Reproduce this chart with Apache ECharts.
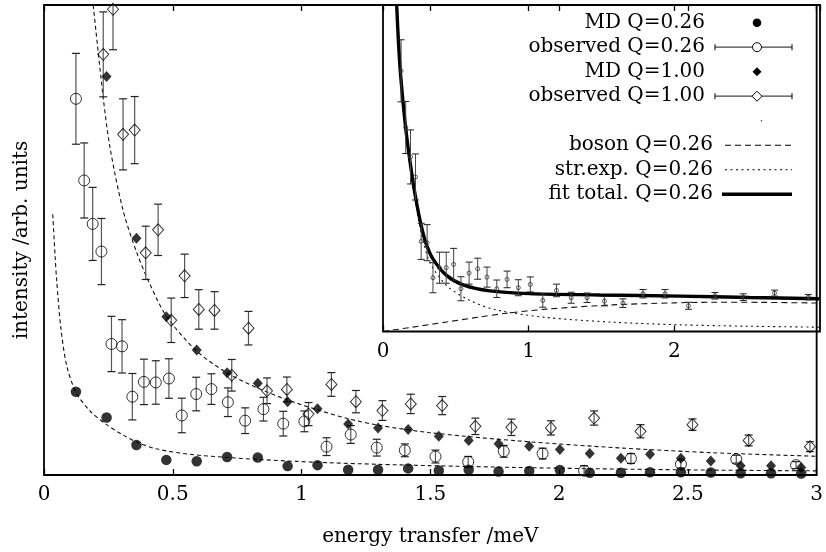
<!DOCTYPE html>
<html>
<head>
<meta charset="utf-8">
<script src="https://cdn.jsdelivr.net/npm/echarts@6/dist/echarts.min.js"></script>
<style>
  html, body { margin: 0; padding: 0; background: #fff; }
  #chart { width: 826px; height: 552px; }
</style>
</head>
<body>
<div id="chart"></div>
<script>
// ---- MD simulation spectra (common energy grid, meV) ----
const energyMD = [0.124, 0.243, 0.359, 0.475, 0.593, 0.711, 0.830, 0.946, 1.062, 1.181, 1.297, 1.414, 1.533,
                  1.649, 1.765, 1.884, 2.003, 2.119, 2.240, 2.353, 2.473, 2.589, 2.705, 2.823, 2.940];
const mdQ026 = [84.3, 58.3, 30.3, 15.3, 14, 18.3, 17.7, 9, 10, 5.3, 5.3, 6.7, 4.5,
                5.3, 3.5, 4, 5, 2.3, 2.2, 2.7, 2.7, 2.5, 1.8, 1.8, 1.5];
// Q=1.00 starts at the second channel (first one is off scale)
const energyMD100 = [0.243, 0.359, 0.475, 0.593, 0.711, 0.830, 0.946, 1.062, 1.181, 1.297, 1.414, 1.533,
                     1.649, 1.765, 1.884, 2.003, 2.119, 2.240, 2.353, 2.473, 2.589, 2.705, 2.823, 2.940];
const mdQ100 = [403.7, 239.7, 160.3, 126.7, 103.5, 93, 74.3, 67, 51.7, 47.7, 46, 39.3,
                35, 31.7, 29, 25.7, 21.7, 17, 21, 17, 14.3, 9.3, 9.3, 7.7];

// ---- observed spectra with uncertainties ----
const energyObs026 = [0.124, 0.156, 0.189, 0.223, 0.262, 0.303, 0.343, 0.388, 0.434, 0.485, 0.535, 0.591, 0.650,
                      0.714, 0.781, 0.852, 0.929, 1.011, 1.097, 1.191, 1.292, 1.401, 1.520, 1.647, 1.785, 1.936,
                      2.097, 2.279, 2.473, 2.688, 2.920];
const obsQ026 = [381, 298.3, 254.3, 226.3, 132.7, 130.3, 79.3, 94.3, 93.7, 97.7, 60.3, 82, 87,
                 73.7, 55, 66.7, 52, 54.3, 28.7, 41, 27.7, 25, 18.7, 13.3, 24, 21.7,
                 4.3, 16.7, 11, 16, 10];
const errQ026 = [46, 38, 37, 33.5, 28, 27, 23.5, 23, 22, 20, 17.5, 17, 15.5,
                 14.5, 13, 12, 12.5, 10.5, 9, 9, 8.5, 6.5, 6.5, 5.5, 6, 5.5,
                 5, 5, 4, 4, 3.5];

const energyObs100 = [0.230, 0.268, 0.307, 0.352, 0.395, 0.443, 0.494, 0.546, 0.601, 0.662, 0.729, 0.794, 0.866,
                      0.943, 1.027, 1.116, 1.211, 1.314, 1.424, 1.546, 1.675, 1.815, 1.968, 2.136, 2.316, 2.518,
                      2.736, 2.974];
const obsQ100 = [426, 471.7, 345, 349.3, 225, 248.3, 156.7, 201.7, 167.7, 166.7, 101, 148.7, 85.3,
                 86.7, 61.7, 91.7, 74.3, 65.3, 72, 70.3, 49.3, 48.3, 47.7, 57.7, 44.3, 51,
                 35, 28.7];
const errQ100 = [43, 41, 36, 34, 27, 26, 22.5, 22, 20, 19, 16, 17, 13,
                 12.5, 11.7, 12, 11.3, 10, 9.8, 9.2, 8.3, 8.3, 7.2, 7.2, 6.7, 5.8,
                 5.5, 5];

// ---- model curves through the MD spectra ----
const fitE026 = [0.034, 0.043, 0.049, 0.065, 0.088, 0.124, 0.178, 0.243, 0.307, 0.359, 0.436, 0.565,
                 0.711, 0.83, 0.978, 1.107, 1.301, 1.494, 1.843, 2.23, 2.617, 3.0];
const fitI026 = [264, 222, 198, 150, 111, 84, 65, 51, 40.5, 33.5, 26.5, 21,
                 17.8, 15.8, 13.8, 12.4, 10.8, 9.5, 7.6, 6, 4.9, 4.2];
const fitE100 = [0.191, 0.230, 0.256, 0.307, 0.359, 0.410, 0.475, 0.591, 0.707, 0.830, 0.946, 1.062,
                 1.181, 1.297, 1.494, 1.843, 2.23, 2.6, 3.0];
const fitI100 = [476, 382, 332, 268, 226, 194, 161, 126, 104, 88, 76, 66,
                 57, 50.5, 43, 34.5, 27.5, 22.5, 19];

// ---- inset: observed Q=0.26 and its decomposition ----
const insetObs = [260.3, 203.7, 174.3, 154.3, 90, 88.7, 53.7, 63.7, 63.7, 67, 42.7, 58.3, 62.7,
                  54.3, 42.7, 52, 43.7, 47, 31, 41, 33.7, 33.7, 30.3, 28.3, 37.7, 37.7,
                  25.7, 35.7, 34.3, 38.3, 34.3];
const insetErr = [31, 26, 27, 23, 18, 18, 15, 15.5, 15.5, 16, 12, 11, 10.5,
                  10, 8.7, 8.3, 8, 7.5, 6.7, 6.3, 5.5, 4.7, 4.7, 4.3, 4.2, 4.2,
                  3.5, 3.3, 3.3, 3, 2.7];
const totalE = [0.094, 0.105, 0.121, 0.155, 0.190, 0.226, 0.265, 0.300, 0.345, 0.436, 0.550, 0.733,
                1.007, 1.486, 2.034, 2.514, 2.993];
const totalI = [326, 292, 256, 204, 165, 132, 104, 86, 72, 56, 46.5, 40.5,
                37.8, 36.5, 35.3, 34, 32.7];
const strExpE = [0.094, 0.121, 0.155, 0.190, 0.226, 0.265, 0.322, 0.436, 0.596, 0.779, 1.121, 1.577,
                 2.034, 2.5, 2.993];
const strExpI = [325, 254, 201, 161, 126, 97, 69, 46, 31, 21.5, 14, 9.3,
                 6.7, 5.3, 4.3];
const bosonE = [0, 0.2, 0.436, 0.65, 0.847, 1.121, 1.577, 2.0, 2.262, 2.6, 2.993];
const bosonI = [0, 4.3, 9.5, 14.2, 18.2, 22.3, 26.6, 28.6, 29.2, 29.1, 28.4];

const FONT = '"DejaVu Serif", serif';
const MAIN_YMAX = 476, INSET_YMAX = 326;

const zip = (xs, ys) => xs.map((x, i) => [x, ys[i]]);
const zip3 = (xs, ys, es) => xs.map((x, i) => [x, ys[i], es[i]]);

// vertical error bar with caps, clamped to the plot range
function errorBars(ymax, capHalf, barColor, capColor, lw) {
  return function (params, api) {
    const x = api.value(0), y = api.value(1), e = api.value(2);
    const top = Math.min(y + e, ymax), bot = Math.max(y - e, 0);
    const pTop = api.coord([x, top]);
    const pBot = api.coord([x, bot]);
    const children = [{
      type: 'line',
      shape: { x1: pTop[0], y1: pTop[1], x2: pBot[0], y2: pBot[1] },
      style: { stroke: barColor, lineWidth: lw }
    }];
    if (y + e <= ymax) {
      children.push({ type: 'line',
        shape: { x1: pTop[0] - capHalf, y1: pTop[1], x2: pTop[0] + capHalf, y2: pTop[1] },
        style: { stroke: capColor, lineWidth: lw } });
    }
    children.push({ type: 'line',
      shape: { x1: pBot[0] - capHalf, y1: pBot[1], x2: pBot[0] + capHalf, y2: pBot[1] },
      style: { stroke: capColor, lineWidth: lw } });
    return { type: 'group', children };
  };
}

const axisFont = { fontFamily: FONT, fontSize: 20, color: '#000' };
const tickStyle = { show: true, inside: true, length: 6, lineStyle: { color: '#000', width: 1.3 } };

// key entries drawn as graphic elements
const keyA = ['MD Q=0.26', 'observed Q=0.26', 'MD Q=1.00', 'observed Q=1.00'];
const keyB = ['boson Q=0.26', 'str.exp. Q=0.26', 'fit total. Q=0.26'];
const rowY = [22.7, 47.2, 71.7, 96.2, 120.7, 145.2, 169.7, 194.2];
const graphics = [];
keyA.forEach((t, i) => graphics.push({ type: 'text', z: 100,
  style: { text: t, x: 705, y: rowY[i], align: 'right', verticalAlign: 'middle', font: '20px ' + FONT, fill: '#000' } }));
keyB.forEach((t, i) => graphics.push({ type: 'text', z: 100,
  style: { text: t, x: 713, y: rowY[i + 5], align: 'right', verticalAlign: 'middle', font: '20px ' + FONT, fill: '#000' } }));
const sx = 757, l0 = 715, l1 = 792;
graphics.push({ type: 'circle', z: 100, shape: { cx: sx, cy: rowY[0], r: 4.3 }, style: { fill: '#000' } });
[1, 3].forEach(i => {
  graphics.push({ type: 'line', z: 100, shape: { x1: l0, y1: rowY[i], x2: l1, y2: rowY[i] }, style: { stroke: '#444', lineWidth: 1.2 } });
  graphics.push({ type: 'line', z: 100, shape: { x1: l0, y1: rowY[i] - 3, x2: l0, y2: rowY[i] + 3 }, style: { stroke: '#222', lineWidth: 1.2 } });
  graphics.push({ type: 'line', z: 100, shape: { x1: l1, y1: rowY[i] - 3, x2: l1, y2: rowY[i] + 3 }, style: { stroke: '#222', lineWidth: 1.2 } });
});
graphics.push({ type: 'circle', z: 101, shape: { cx: sx, cy: rowY[1], r: 4.5 }, style: { fill: '#fff', stroke: '#000', lineWidth: 1 } });
graphics.push({ type: 'polygon', z: 100, shape: { points: [[sx, rowY[2] - 4.5], [sx + 4.5, rowY[2]], [sx, rowY[2] + 4.5], [sx - 4.5, rowY[2]]] }, style: { fill: '#000' } });
graphics.push({ type: 'polygon', z: 101, shape: { points: [[sx, rowY[3] - 5], [sx + 5, rowY[3]], [sx, rowY[3] + 5], [sx - 5, rowY[3]]] }, style: { fill: '#fff', stroke: '#000', lineWidth: 1 } });
graphics.push({ type: 'circle', z: 100, shape: { cx: 761.5, cy: rowY[4], r: 0.8 }, style: { fill: '#444' } });
graphics.push({ type: 'line', z: 100, shape: { x1: 725, y1: rowY[5], x2: l1, y2: rowY[5] }, style: { stroke: '#000', lineWidth: 1.1, lineDash: [6, 4] } });
graphics.push({ type: 'line', z: 100, shape: { x1: 725, y1: rowY[6], x2: l1, y2: rowY[6] }, style: { stroke: '#000', lineWidth: 1.1, lineDash: [2, 3.5] } });
graphics.push({ type: 'line', z: 100, shape: { x1: 722, y1: rowY[7], x2: l1, y2: rowY[7] }, style: { stroke: '#000', lineWidth: 3.4 } });

const chart = echarts.init(document.getElementById('chart'), null, { renderer: 'canvas' });

const curve = (xi, yi, xs, ys, style, z) => ({
  type: 'line', xAxisIndex: xi, yAxisIndex: yi, data: zip(xs, ys), showSymbol: false,
  smooth: 0.3, clip: true, z: z, lineStyle: style
});

chart.setOption({
  animation: false,
  backgroundColor: '#fff',
  grid: [
    { left: 44, right: 6, top: 5, bottom: 71, show: true, borderColor: '#000', borderWidth: 1.8, backgroundColor: 'transparent' },
    { left: 383, right: 6, top: 5, bottom: 220.5, show: true, borderColor: '#000', borderWidth: 1.8, backgroundColor: 'transparent' }
  ],
  xAxis: [
    { gridIndex: 0, type: 'value', min: 0, max: 3, interval: 0.5, position: 'bottom',
      axisLine: { show: false }, axisTick: tickStyle, splitLine: { show: false },
      axisLabel: Object.assign({ margin: 10, formatter: v => String(v) }, axisFont),
      name: 'energy transfer /meV', nameLocation: 'middle', nameGap: 52,
      nameTextStyle: axisFont },
    { gridIndex: 0, type: 'value', min: 0, max: 3, interval: 0.5, position: 'top',
      axisLine: { show: false }, axisTick: tickStyle, splitLine: { show: false }, axisLabel: { show: false } },
    { gridIndex: 1, type: 'value', min: 0, max: 3, interval: 1, position: 'bottom',
      axisLine: { show: false }, axisTick: tickStyle, splitLine: { show: false },
      axisLabel: Object.assign({ margin: 10, showMaxLabel: false, formatter: v => String(v) }, axisFont) },
    { gridIndex: 1, type: 'value', min: 0, max: 3, interval: 1, position: 'top',
      axisLine: { show: false }, axisTick: tickStyle, splitLine: { show: false }, axisLabel: { show: false } }
  ],
  yAxis: [
    { gridIndex: 0, type: 'value', min: 0, max: MAIN_YMAX,
      axisLine: { show: false }, axisTick: { show: false }, splitLine: { show: false }, axisLabel: { show: false },
      name: 'intensity /arb. units', nameLocation: 'middle', nameGap: 12, nameRotate: 90,
      nameTextStyle: axisFont },
    { gridIndex: 1, type: 'value', min: 0, max: INSET_YMAX,
      axisLine: { show: false }, axisTick: { show: false }, splitLine: { show: false }, axisLabel: { show: false } }
  ],
  graphic: graphics,
  series: [
    // main plot: model curves
    curve(0, 0, fitE026, fitI026, { color: '#111', width: 1.1, type: [4, 3] }, 2),
    curve(0, 0, fitE100, fitI100, { color: '#111', width: 1.1, type: [4, 3] }, 2),
    // observed Q=0.26
    { type: 'custom', xAxisIndex: 0, yAxisIndex: 0, data: zip3(energyObs026, obsQ026, errQ026),
      renderItem: errorBars(MAIN_YMAX, 4, '#555', '#222', 1.2), encode: { x: 0, y: 1 }, z: 3 },
    { type: 'scatter', xAxisIndex: 0, yAxisIndex: 0, data: zip(energyObs026, obsQ026),
      symbol: 'circle', symbolSize: 11, z: 4,
      itemStyle: { color: 'rgba(255,255,255,0)', borderColor: '#000', borderWidth: 1 } },
    // observed Q=1.00
    { type: 'custom', xAxisIndex: 0, yAxisIndex: 0, data: zip3(energyObs100, obsQ100, errQ100),
      renderItem: errorBars(MAIN_YMAX, 4, '#555', '#222', 1.2), encode: { x: 0, y: 1 }, z: 3 },
    { type: 'scatter', xAxisIndex: 0, yAxisIndex: 0, data: zip(energyObs100, obsQ100),
      symbol: 'diamond', symbolSize: [11, 12], z: 4,
      itemStyle: { color: 'rgba(255,255,255,0)', borderColor: '#000', borderWidth: 1 } },
    // MD spectra
    { type: 'scatter', xAxisIndex: 0, yAxisIndex: 0, data: zip(energyMD, mdQ026),
      symbol: 'circle', symbolSize: 10.5, z: 5, itemStyle: { color: '#000' } },
    { type: 'scatter', xAxisIndex: 0, yAxisIndex: 0, data: zip(energyMD100, mdQ100),
      symbol: 'diamond', symbolSize: [10, 11], z: 5, itemStyle: { color: '#000' } },

    // inset: decomposition of the Q=0.26 spectrum
    curve(2, 1, bosonE, bosonI, { color: '#111', width: 1.1, type: [6, 4] }, 2),
    curve(2, 1, strExpE, strExpI, { color: '#111', width: 1.1, type: [2, 3.5] }, 2),
    curve(2, 1, totalE, totalI, { color: '#000', width: 3.4 }, 3),
    { type: 'custom', xAxisIndex: 2, yAxisIndex: 1, data: zip3(energyObs026, insetObs, insetErr),
      renderItem: errorBars(INSET_YMAX, 3.5, '#444', '#222', 1), encode: { x: 0, y: 1 }, z: 4 },
    { type: 'scatter', xAxisIndex: 2, yAxisIndex: 1, data: zip(energyObs026, insetObs),
      symbol: 'circle', symbolSize: 4, z: 5,
      itemStyle: { color: 'rgba(255,255,255,0)', borderColor: '#333', borderWidth: 1 } }
  ]
});
</script>
</body>
</html>
